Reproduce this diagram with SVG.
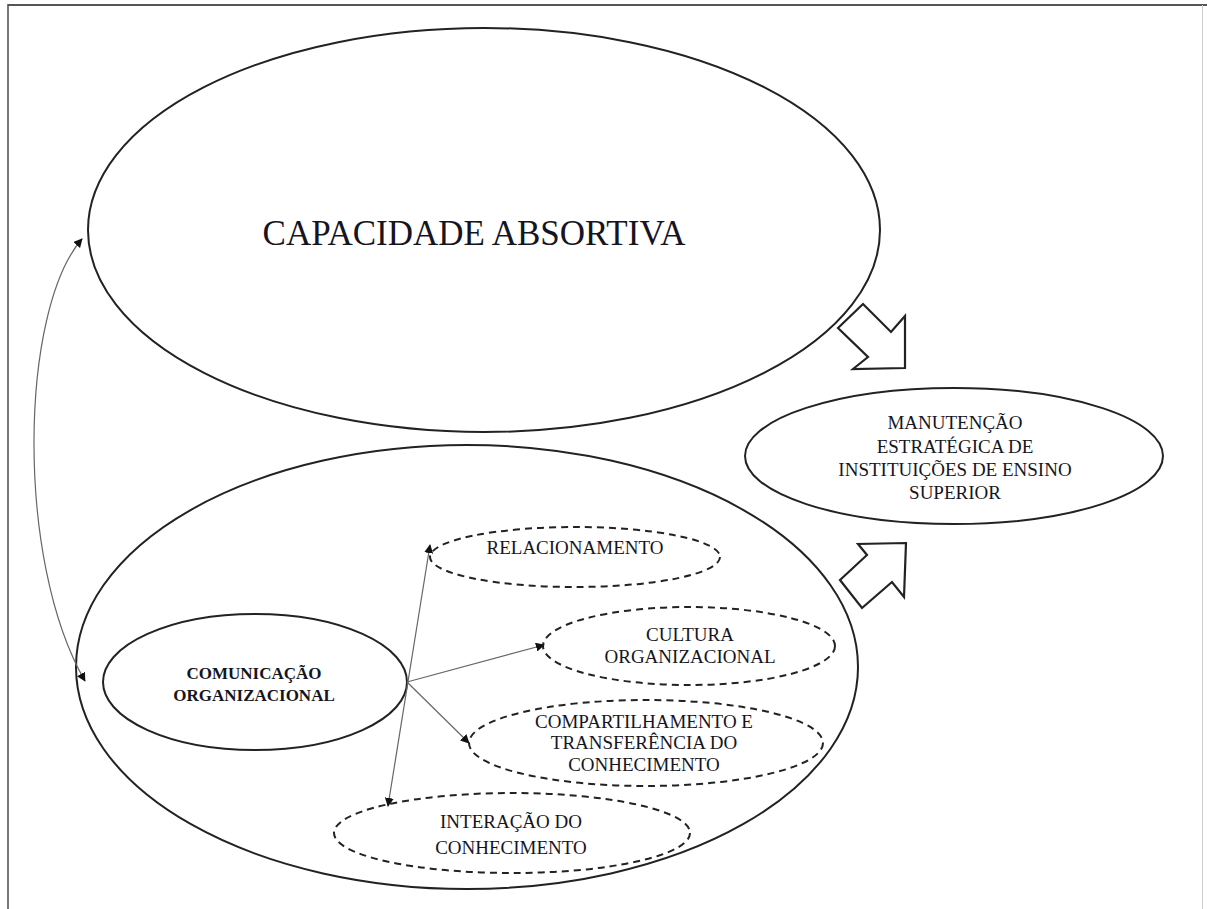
<svg xmlns="http://www.w3.org/2000/svg" width="1207" height="909" viewBox="0 0 1207 909">
  <style>
    .solid { fill: none; stroke: #222; stroke-width: 2; }
    .dashed { fill: none; stroke: #222; stroke-width: 2; stroke-dasharray: 7 5; }
    .big { fill: #fff; stroke: #222; stroke-width: 2.2; stroke-linejoin: miter; }
    .link { fill: none; stroke: #666; stroke-width: 1.2; }
    text { font-family: "Liberation Serif", "Times New Roman", serif; fill: #15151f; text-anchor: middle; }
    .t19 { font-size: 19px; }
    .bold { font-size: 17px; font-weight: bold; }
  </style>
  <defs>
    <marker id="tip" viewBox="0 0 10 10" refX="9" refY="5" markerWidth="9" markerHeight="9" markerUnits="userSpaceOnUse" orient="auto-start-reverse">
      <path d="M0,0 L10,5 L0,10 Z" fill="#111"/>
    </marker>
  </defs>

  <rect width="1207" height="909" fill="#fff"/>

  <!-- page frame -->
  <g id="frame">
    <line x1="8" y1="5" x2="1207" y2="5" stroke="#555" stroke-width="2"/>
    <line x1="8" y1="4" x2="8" y2="909" stroke="#555" stroke-width="1.6"/>
    <line x1="1202.5" y1="5" x2="1202.5" y2="909" stroke="#ccc" stroke-width="1"/>
  </g>

  <g id="capacidade-absortiva">
    <ellipse class="solid" cx="484" cy="230" rx="396" ry="202"/>
    <text x="474" y="245" font-size="35">CAPACIDADE ABSORTIVA</text>
  </g>

  <g id="comunicacao-container">
    <ellipse class="solid" cx="467" cy="667" rx="391" ry="222"/>
  </g>

  <g id="manutencao">
    <ellipse class="solid" cx="954" cy="456" rx="209" ry="68"/>
    <text class="t19" x="955" y="429">MANUTENÇÃO</text>
    <text class="t19" x="955" y="453">ESTRATÉGICA DE</text>
    <text class="t19" x="955" y="476">INSTITUIÇÕES DE ENSINO</text>
    <text class="t19" x="955" y="499">SUPERIOR</text>
  </g>

  <g id="comunicacao-organizacional">
    <ellipse class="solid" cx="255" cy="682" rx="152" ry="68"/>
    <text class="bold" x="254" y="679">COMUNICAÇÃO</text>
    <text class="bold" x="254" y="701">ORGANIZACIONAL</text>
  </g>

  <g id="relacionamento">
    <ellipse class="dashed" cx="575" cy="557" rx="145" ry="30"/>
    <text class="t19" x="575" y="554">RELACIONAMENTO</text>
  </g>

  <g id="cultura-organizacional">
    <ellipse class="dashed" cx="689" cy="646" rx="146" ry="39"/>
    <text class="t19" x="690" y="641">CULTURA</text>
    <text class="t19" x="690" y="663">ORGANIZACIONAL</text>
  </g>

  <g id="compartilhamento">
    <ellipse class="dashed" cx="646" cy="743" rx="177" ry="43"/>
    <text class="t19" x="644" y="728">COMPARTILHAMENTO E</text>
    <text class="t19" x="644" y="749">TRANSFERÊNCIA DO</text>
    <text class="t19" x="644" y="771">CONHECIMENTO</text>
  </g>

  <g id="interacao">
    <ellipse class="dashed" cx="512" cy="833" rx="178" ry="40"/>
    <text class="t19" x="511" y="828">INTERAÇÃO DO</text>
    <text class="t19" x="511" y="854">CONHECIMENTO</text>
  </g>

  <g id="connectors">
    <!-- two-way link between the two large ellipses -->
    <path class="link" d="M82,239 C20,310 15,560 85,681" marker-start="url(#tip)" marker-end="url(#tip)"/>
    <!-- two-way link: relacionamento / interação -->
    <line class="link" x1="430" y1="545" x2="388" y2="806" marker-start="url(#tip)" marker-end="url(#tip)"/>
    <line class="link" x1="407" y1="682" x2="544" y2="645" marker-end="url(#tip)"/>
    <line class="link" x1="407" y1="682" x2="469" y2="743" marker-end="url(#tip)"/>
    <!-- block arrows towards manutenção -->
    <polygon class="big" points="838,328 863,304 891,332 905,316 905,368 853,369 868,357"/>
    <polygon class="big" points="840,580 867,555 858,544 906,543 904,597 892,582 862,608"/>
  </g>
</svg>
